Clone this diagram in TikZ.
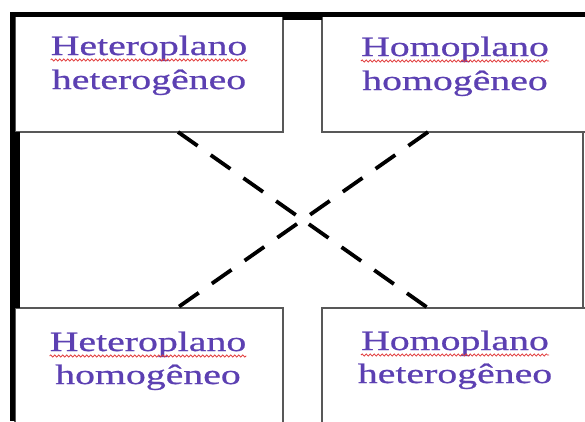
\documentclass[tikz,border=0pt]{standalone}
\usepackage{fontspec}
\usepackage{xcolor}
\usepackage{tikz}
\usetikzlibrary{decorations.pathmorphing}
\newfontfamily\cellfont[FakeStretch=1.42,FakeBold=0.8]{Liberation Serif}
\definecolor{celLine}{RGB}{88,88,88}
\definecolor{celText}{RGB}{92,64,178}
\definecolor{celWave}{RGB}{225,60,60}

\begin{document}
\begin{tikzpicture}[x=1pt,y=-1pt,
    cell/.style={draw=celLine,line width=1.4pt,anchor=north west,
      minimum width=268pt,minimum height=117pt,inner sep=0pt,outer sep=0pt},
    word/.style={text=celText,font=\cellfont\fontsize{28}{34}\selectfont,
      inner sep=0pt,anchor=base},
    wavy/.style={draw=celWave,line width=0.8pt,decorate,
      decoration={snake,amplitude=1.1pt,segment length=4pt}},
    cross/.style={line width=3.8pt,dash pattern=on 24pt off 16pt}
  ]
  \useasboundingbox (0,0) rectangle (585,421);
  \clip (0,0) rectangle (585,421);
  % the four boxes
  \node[cell] (tl) at (15,15)   {};
  \node[cell] (tr) at (322,15)  {};
  \node[cell] (bl) at (15,308)  {};
  \node[cell] (br) at (322,308) {};
  % right side of the middle band
  \draw[draw=celLine,line width=1.4pt] ([xshift=-7pt]tr.south east) -- ([xshift=-7pt]br.north east);
  % heavy frame on top and left
  \fill (10,12) rectangle (585,17);
  \fill (283,17) rectangle (322,20);
  \fill (10,12) rectangle (15,421);
  \fill (15,132) rectangle (20,308);
  % labels
  \node[word] (tlA) at (149,55)  {Heteroplano};
  \node[word] (tlB) at (149,89)  {heterogêneo};
  \node[word] (trA) at (455,56)  {Homoplano};
  \node[word] (trB) at (455,90)  {homogêneo};
  \node[word] (blA) at (148,351) {Heteroplano};
  \node[word] (blB) at (148,384) {homogêneo};
  \node[word] (brA) at (455,350) {Homoplano};
  \node[word] (brB) at (455,383) {heterogêneo};
  \foreach \w in {tlA,trA,blA,brA}
    \draw[wavy] ([yshift=-5pt]\w.base west) -- ([yshift=-5pt]\w.base east);
  % dashed cross
  \draw[cross] ([xshift=29pt]tl.south) -- ([xshift=-28pt]br.north);
  \draw[cross] ([xshift=-28pt]tr.south) -- ([xshift=28pt]bl.north);
\end{tikzpicture}
\end{document}
